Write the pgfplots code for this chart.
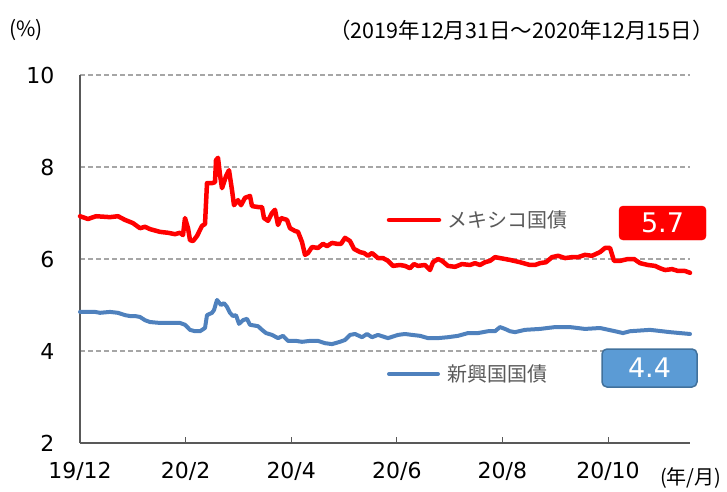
\documentclass[border=0pt]{standalone}
\usepackage{fontspec}
\usepackage{pgfplots}
\pgfplotsset{compat=1.18}
\setmainfont{DejaVu Sans}
\newfontfamily\jp{Noto Sans CJK JP}
\definecolor{mxred}{HTML}{FF0000}
\definecolor{emblue}{HTML}{4F81BD}
\definecolor{boxblue}{HTML}{5B9BD5}
\definecolor{boxedge}{HTML}{41719C}
\definecolor{gridgray}{HTML}{A6A6A6}
\definecolor{axisgray}{HTML}{595959}
\definecolor{txtgray}{HTML}{595959}
\begin{document}
\begin{tikzpicture}[x=1pt,y=1pt]
\path[use as bounding box] (0,0) rectangle (727,491);
\begin{axis}[
  at={(80pt,48pt)}, anchor=south west,
  width=610pt, height=368pt, scale only axis,
  xmin=0, xmax=610, ymin=2, ymax=10,
  axis x line=bottom, axis y line=left,
  axis line style={-},
  x axis line style={draw=axisgray, line width=1.5pt},
  y axis line style={draw=axisgray, line width=2.5pt},
  xtick={0,105.6,211.2,316.8,422.4,528},
  xticklabels={19/12,20/2,20/4,20/6,20/8,20/10},
  ytick={2,4,6,8,10},
  ymajorgrids,
  grid style={gridgray, line width=1.2pt, dash pattern=on 5pt off 3pt},
  tick align=inside,
  major tick length=6pt,
  xtick style={draw=axisgray, line width=1pt},
  ytick style={draw=none},
  /pgf/number format/assume math mode=true,
  tick label style={font=\fontsize{22}{26}\selectfont, text=black},
  xticklabel style={yshift=-16pt},
  yticklabel style={xshift=-22pt},
  clip=false,
]
\addplot[mxred, line width=4.5pt, line join=round, line cap=round] coordinates {
(0,6.93) (8,6.87) (16,6.93) (30,6.91) (38,6.93) (45,6.85) (53,6.78) (60,6.67)
(65,6.70) (70,6.65) (80,6.59) (88,6.57) (95,6.54) (100,6.57) (103,6.52) (105,6.89)
(108,6.67) (110,6.41) (113,6.39) (117,6.50) (122,6.72) (125,6.76) (127,7.65) (132,7.65)
(135,7.67) (136,8.15) (138,8.20) (140,7.83) (142,7.54) (146,7.80) (149,7.93) (152,7.50)
(154,7.17) (158,7.28) (161,7.17) (165,7.33) (170,7.37) (172,7.15) (178,7.13) (182,7.13)
(184,6.89) (188,6.83) (192,7.00) (195,7.07) (198,6.74) (201,6.89) (207,6.85) (210,6.67)
(215,6.61) (218,6.59) (222,6.37) (225,6.09) (228,6.13) (232,6.26) (238,6.24) (243,6.33)
(247,6.28) (252,6.35) (257,6.33) (261,6.33) (265,6.46) (270,6.39) (274,6.22) (280,6.15)
(284,6.13) (288,6.07) (292,6.13) (298,6.02) (303,6.02) (308,5.96) (313,5.85) (320,5.87)
(325,5.85) (330,5.80) (334,5.89) (338,5.85) (345,5.87) (350,5.76) (353,5.93) (358,6.00)
(362,5.96) (368,5.85) (375,5.83) (382,5.89) (390,5.87) (395,5.91) (400,5.87) (405,5.93)
(410,5.96) (415,6.04) (420,6.02) (430,5.98) (440,5.93) (450,5.87) (455,5.87) (460,5.91)
(466,5.93) (472,6.04) (478,6.07) (485,6.02) (492,6.04) (498,6.04) (505,6.09) (512,6.07)
(520,6.15) (525,6.24) (530,6.24) (534,5.96) (540,5.96) (548,6.00) (554,6.00) (560,5.91)
(568,5.87) (575,5.85) (580,5.80) (585,5.76) (592,5.78) (598,5.74) (605,5.74) (610,5.70)
};
\addplot[emblue, line width=4pt, line join=round, line cap=round] coordinates {
(0,4.85) (15,4.85) (20,4.83) (30,4.85) (38,4.83) (45,4.78) (50,4.76) (55,4.76)
(60,4.74) (65,4.67) (70,4.63) (80,4.61) (90,4.61) (100,4.61) (105,4.57) (110,4.46)
(115,4.43) (120,4.43) (125,4.50) (127,4.78) (132,4.83) (134,4.89) (137,5.11) (141,5.00)
(144,5.04) (147,4.96) (150,4.83) (153,4.76) (156,4.78) (159,4.59) (163,4.67) (167,4.70)
(170,4.57) (178,4.54) (182,4.46) (186,4.39) (192,4.35) (198,4.28) (203,4.33) (208,4.22)
(216,4.22) (222,4.20) (230,4.22) (238,4.22) (245,4.17) (252,4.15) (260,4.20) (265,4.24)
(270,4.35) (275,4.37) (282,4.30) (287,4.37) (292,4.30) (298,4.35) (308,4.28) (318,4.35)
(325,4.37) (332,4.35) (340,4.33) (348,4.28) (358,4.28) (368,4.30) (378,4.33) (388,4.39)
(398,4.39) (408,4.43) (415,4.43) (420,4.52) (425,4.48) (430,4.43) (435,4.41) (445,4.46)
(460,4.48) (475,4.52) (490,4.52) (505,4.48) (520,4.50) (535,4.43) (543,4.39) (550,4.43)
(570,4.46) (590,4.41) (610,4.37)
};
\end{axis}
% legend-like annotations
\draw[mxred, line width=4.5pt, line cap=round] (389,271) -- (439,271);
\node[anchor=west, inner sep=0pt, text=txtgray, font=\jp\fontsize{20}{24}\selectfont] at (447,271) {メキシコ国債};
\draw[emblue, line width=4pt, line cap=round] (389,117) -- (438,117);
\node[anchor=west, inner sep=0pt, text=txtgray, font=\jp\fontsize{20}{24}\selectfont] at (447,117) {新興国国債};
\filldraw[fill=mxred, draw=mxred, rounded corners=4pt] (619,251) rectangle (706,285);
\node[text=white, font=\fontsize{27}{30}\selectfont] at (662.5,268) {5.7};
\filldraw[fill=boxblue, draw=boxedge, line width=1.5pt, rounded corners=5pt] (602,104) rectangle (697,142);
\node[text=white, font=\fontsize{27}{30}\selectfont] at (649.5,123) {4.4};
% titles
\node[anchor=west, inner sep=0pt, font=\jp\fontsize{21}{24}\selectfont] at (9,461) {(\%)};
\node[anchor=east, inner sep=0pt, font=\jp\fontsize{21.5}{24}\selectfont] at (714,461) {（2019年12月31日～2020年12月15日）};
\node[anchor=west, inner sep=0pt, font=\jp\fontsize{20}{23}\selectfont] at (660,13) {(年/月)};
\end{tikzpicture}
\end{document}
